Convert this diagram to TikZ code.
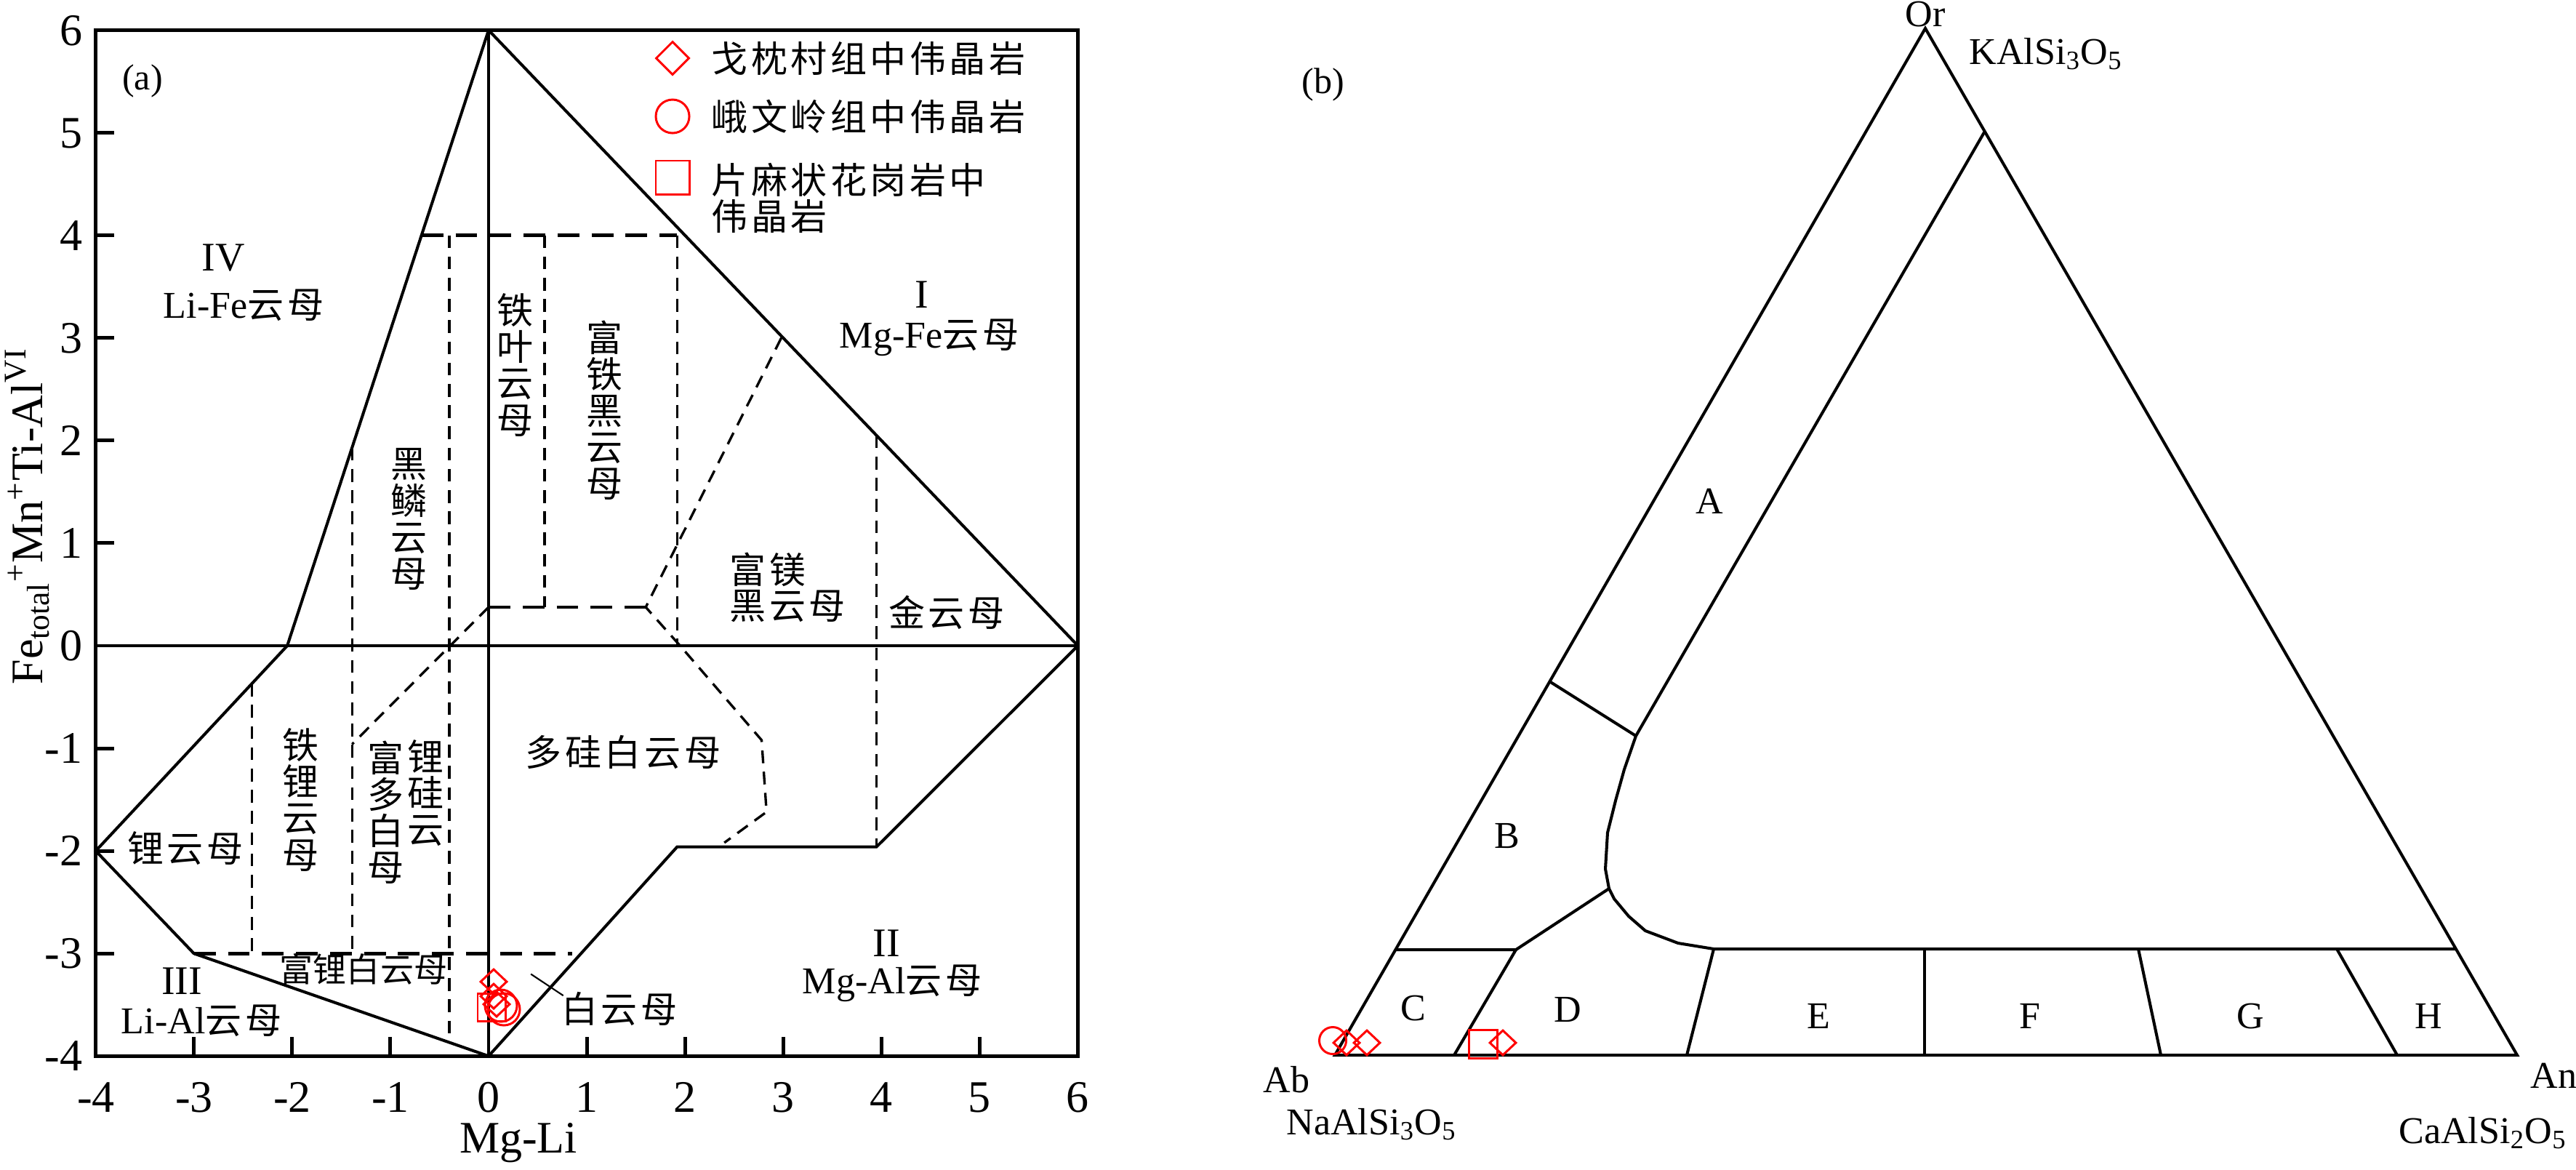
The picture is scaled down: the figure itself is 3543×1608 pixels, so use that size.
\documentclass[tikz,border=0pt]{standalone}
\usepackage{fontspec}
\setmainfont{Liberation Serif}
\newfontfamily\cn[LetterSpace=9]{Noto Sans CJK SC}
\newfontfamily\cnv{Noto Sans CJK SC}
\usetikzlibrary{shapes.geometric}
\newcommand\fsTick{\fontsize{17.64pt}{18pt}\selectfont}
\newcommand\fsLab{\fontsize{14.8pt}{15pt}\selectfont}
\newcommand\fsCn{\fontsize{14.23pt}{14.23pt}\selectfont}
\newcommand\fsRom{\fontsize{15.9pt}{16pt}\selectfont}
\newcommand\fsSm{\fontsize{13.1pt}{13.1pt}\selectfont}
\begin{document}
\begin{tikzpicture}[x=0.01cm,y=-0.01cm,
  solidln/.style={line width=1.15pt},
  frameln/.style={line width=1.4pt},
  dashh/.style={line width=1.35pt,dash pattern=on 8.5pt off 4.8pt},
  dashv/.style={line width=0.95pt,dash pattern=on 5pt off 3.3pt},
  mk/.style={draw=red,line width=0.85pt,inner sep=0pt,minimum size=0pt},
  mkd/.style={mk,diamond,minimum width=0.37cm,minimum height=0.35cm},
  mkc/.style={mk,circle,minimum size=0.44cm},
  mks/.style={mk,rectangle,minimum size=0.38cm},
  ticklab/.style={font=\fsTick,inner sep=0pt},
  cnlab/.style={font=\cn\fsCn,inner sep=0pt},
  cnvert/.style={font=\cnv\fsCn,inner sep=0pt,align=center},
  latlab/.style={font=\fsLab,inner sep=0pt},
  romlab/.style={font=\fsRom,inner sep=0pt}]
\fill[white] (0,0) rectangle (3543,1608);
\useasboundingbox (0,0) rectangle (3543,1608);

% ---------------- panel (a) ----------------
\begin{scope}[shift={(672,888)},x=1.35cm,y=1.41cm]
  \draw[frameln] (-4,-4) rectangle (6,6);
  \draw[solidln] (0,-4) -- (0,6);
  \draw[solidln] (-4,0) -- (6,0);
  \draw[solidln] (0,6) -- (6,0);
  \draw[solidln] (0,6) -- (-2.05,0) -- (-4,-2) -- (-3,-3) -- (0,-4) -- (1.92,-1.96) -- (3.95,-1.96) -- (6,0);
  \foreach \v in {-3,...,5} {
    \draw[frameln] (-4,\v) -- ++(0.19,0);
    \draw[frameln] (\v,-4) -- ++(0,0.185);
  }
  \draw[dashh] (-0.683,4) -- (1.92,4);
  \draw[dashv] (1.92,4) -- (1.92,0);
  \draw[dashv] (0.57,4) -- (0.57,0.376);
  \draw[dashv] (-0.40,4) -- (-0.40,-3.867);
  \draw[dashv] (-1.39,1.93) -- (-1.39,-3);
  \draw[dashv] (-2.41,-0.37) -- (-2.41,-3);
  \draw[dashh] (-3,-3) -- (0.85,-3);
  \draw[dashh] (0,0.376) -- (1.6,0.376);
  \draw[dashv] (0,0.376) -- (-1.39,-0.96);
  \draw[dashv] (2.98,3.0) -- (1.6,0.376) -- (1.95,0) -- (2.78,-0.92) -- (2.83,-1.62) -- (2.4,-1.92);
  \draw[dashv] (3.95,2.05) -- (3.95,-1.96);
  \draw[line width=0.6pt] (0.43,-3.2) -- (0.76,-3.41);
\end{scope}

% tick labels
\foreach \v in {-4,...,6} {
  \pgfmathsetmacro{\yy}{888-141*\v}
  \node[ticklab,anchor=east] (yt\v) at (114,\yy) {\v};
  \pgfmathsetmacro{\xx}{672+135*\v}
  \node[ticklab] (xt\v) at (\xx,1509) {\v};
}
\node[ticklab] (xlab) at (713,1572) {Mg-Li};
\node[ticklab,rotate=90,anchor=base] (ylab) at (58,710)
  {Fe\textsubscript{total}\textsuperscript{+}Mn\textsuperscript{+}Ti-Al\textsuperscript{VI}};

% panel (a) labels
\node[font=\fsCn,inner sep=0pt] (la) at (196,111) {(a)};
\node[romlab] (r4) at (307,355) {IV};
\node[latlab] (life) at (335,420) {Li-Fe{\cn\fsCn 云母}};
\node[romlab] (r1) at (1268,405) {I};
\node[latlab] (mgfe) at (1278,464) {Mg-Fe{\cn\fsCn 云母}};
\node[cnvert] (tieye) at (709,502) {铁\\叶\\云\\母};
\node[cnvert] (futiehei) at (832,564) {富\\铁\\黑\\云\\母};
\node[cnvert] (heilin) at (563,714) {黑\\鳞\\云\\母};
\node[cnlab,anchor=west] (fumei1) at (1003,783) {富镁};
\node[cnlab,anchor=west] (fumei2) at (1003,834) {黑云母};
\node[cnlab] (jin) at (1302,842) {金云母};
\node[cnlab] (duogui) at (857,1034) {多硅白云母};
\node[cnvert] (tieli) at (414,1100) {铁\\锂\\云\\母};
\node[cnvert] (fuduo) at (531,1117) {富\\多\\白\\母};
\node[cnvert] (ligui) at (586,1091) {锂\\硅\\云};
\node[cnlab] (liyun) at (255,1167) {锂云母};
\node[font=\cnv\fsSm,inner sep=0pt] (fuli) at (500,1333) {富锂白云母};
\node[romlab] (r3) at (250,1349) {III};
\node[latlab] (lial) at (277,1404) {Li-Al{\cn\fsCn 云母}};
\node[romlab] (r2) at (1219,1297) {II};
\node[latlab] (mgal) at (1227,1352) {Mg-Al{\cn\fsCn 云母}};
\node[cnlab] (baiyun) at (852,1387) {白云母};

% data points (a)
\node[mkd] (pa1) at (679,1350) {};
\node[mkd] (pa2) at (679,1370) {};
\node[mkd] (pa3) at (683,1381) {};
\node[mkc] (pa4) at (689,1383) {};
\node[mkc] (pa5) at (693,1388) {};
\node[mks] (pa6) at (676,1385) {};

% legend
\node[mkd,minimum width=0.46cm,minimum height=0.46cm] (lg1) at (925,80) {};
\node[mkc,minimum size=0.46cm] (lg2) at (925,160) {};
\node[mks,minimum size=0.46cm] (lg3) at (925,244) {};
\node[cnlab,anchor=west] (lt1) at (978,80) {戈枕村组中伟晶岩};
\node[cnlab,anchor=west] (lt2) at (978,160) {峨文岭组中伟晶岩};
\node[cnlab,anchor=west] (lt3) at (978,247) {片麻状花岗岩中};
\node[cnlab,anchor=west] (lt4) at (978,297) {伟晶岩};

% ---------------- panel (b) ----------------
\coordinate (Ab) at (1836,1451);
\coordinate (Or) at (2648,39);
\coordinate (An) at (3462,1451);
\draw[solidln] (Ab) -- (Or) -- (An) -- cycle;
\coordinate (p1) at (2729,182);
\coordinate (p2) at (2250,1012);
\coordinate (p3) at (2131,937);
\draw[solidln] (p1) -- (p2);
\draw[solidln] (p3) -- (p2);
\draw[solidln] (p2) -- (2234,1058) -- (2222,1101) -- (2211,1145) -- (2208,1195) -- (2213,1222)
  -- (2220,1236) -- (2240,1260) -- (2263,1280) -- (2308,1297) -- (2357,1305) -- (3377,1305);
\draw[solidln] (2213,1222) -- (2085,1306);
\draw[solidln] (1920,1306) -- (2085,1306) -- (2000,1451);
\draw[solidln] (2357,1305) -- (2320,1451);
\draw[solidln] (2647,1305) -- (2647,1451);
\draw[solidln] (2941,1305) -- (2972,1451);
\draw[solidln] (3214,1305) -- (3297,1451);

\node[font=\fsCn,inner sep=0pt] (lb) at (1820,116) {(b)};
\node[latlab,anchor=base] (tOr) at (2648,36) {Or};
\node[latlab,anchor=base west] (tK) at (2708,88) {KAlSi\textsubscript{3}O\textsubscript{5}};
\node[latlab,anchor=base west] (tAb) at (1737,1502) {Ab};
\node[latlab,anchor=base west] (tNa) at (1769,1560) {NaAlSi\textsubscript{3}O\textsubscript{5}};
\node[latlab,anchor=base west] (tAn) at (3480,1496) {An};
\node[latlab,anchor=base east] (tCa) at (3531,1572) {CaAlSi\textsubscript{2}O\textsubscript{5}};
\node[latlab] (zA) at (2351,689) {A};
\node[latlab] (zB) at (2073,1150) {B};
\node[latlab] (zC) at (1944,1386) {C};
\node[latlab] (zD) at (2156,1388) {D};
\node[latlab] (zE) at (2501,1397) {E};
\node[latlab] (zF) at (2792,1397) {F};
\node[latlab] (zG) at (3095,1397) {G};
\node[latlab] (zH) at (3340,1397) {H};

% data points (b)
\node[mkd] (pb1) at (1852,1434) {};
\node[mkd] (pb2) at (1880,1434) {};
\node[mkc,minimum size=0.37cm] (pb3) at (1833,1431) {};
\node[mks,minimum size=0.39cm] (pb4) at (2040,1436) {};
\node[mkd] (pb5) at (2067,1434) {};
\end{tikzpicture}
\end{document}
